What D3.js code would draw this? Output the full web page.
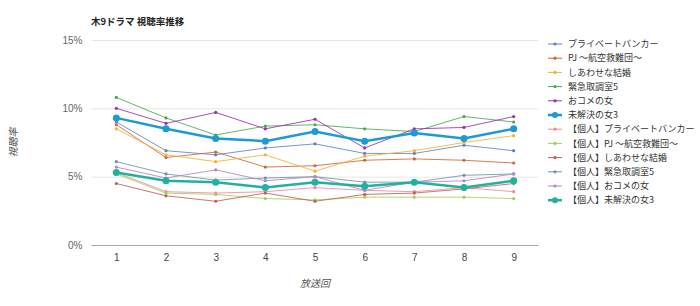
<!DOCTYPE html>
<html>
<head>
<meta charset="utf-8">
<script src="https://cdn.jsdelivr.net/npm/d3@7"></script>
<style>
  body { margin: 0; background: #fff; }
  svg { font-family: "Noto Sans CJK JP", "Noto Sans", sans-serif; }
</style>
</head>
<body>
<script>
// episodes and tick labels
const episodes = [1, 2, 3, 4, 5, 6, 7, 8, 9];
const yTicks = [0, 5, 10, 15];

// series names
const seriesNames = [
  'プライベートバンカー', 'PJ 〜航空救難団〜', 'しあわせな結婚', '緊急取調室5', 'おコメの女', '未解決の女3',
  '【個人】プライベートバンカー', '【個人】PJ 〜航空救難団〜', '【個人】しあわせな結婚', '【個人】緊急取調室5', '【個人】おコメの女', '【個人】未解決の女3'
];

// rating values (%) per episode
const privateBanker = [9.0, 6.9, 6.6, 7.1, 7.4, 6.7, 6.7, 7.3, 6.9];
const pj = [8.8, 6.4, 6.8, 5.7, 5.8, 6.2, 6.3, 6.2, 6.0];
const shiawase = [8.5, 6.6, 6.1, 6.6, 5.4, 6.5, 6.9, 7.5, 8.0];
const kinkyu = [10.8, 9.3, 8.05, 8.7, 8.8, 8.5, 8.3, 9.4, 9.0];
const okome = [10.0, 8.9, 9.7, 8.5, 9.2, 7.1, 8.5, 8.6, 9.4];
const mikaiketsu = [9.3, 8.5, 7.8, 7.6, 8.3, 7.6, 8.2, 7.8, 8.5];
const kojinPrivateBanker = [5.3, 3.9, 3.8, 3.9, 4.2, 4.0, 3.9, 4.2, 3.9];
const kojinPj = [5.2, 3.8, 3.7, 3.4, 3.3, 3.5, 3.5, 3.5, 3.4];
const kojinShiawase = [4.5, 3.6, 3.2, 3.8, 3.2, 3.7, 3.8, 4.1, 4.5];
const kojinKinkyu = [6.1, 5.2, 4.75, 4.9, 5.0, 4.6, 4.6, 5.1, 5.2];
const kojinOkome = [5.7, 4.9, 5.5, 4.7, 5.0, 4.0, 4.6, 4.7, 5.2];
const kojinMikaiketsu = [5.3, 4.7, 4.6, 4.2, 4.6, 4.3, 4.6, 4.2, 4.7];

const seriesValues = [privateBanker, pj, shiawase, kinkyu, okome, mikaiketsu,
  kojinPrivateBanker, kojinPj, kojinShiawase, kojinKinkyu, kojinOkome, kojinMikaiketsu];

const colors = ['#5f82c6', '#d2623c', '#f2b233', '#4aa94c', '#9a30a8', '#1d9ad4',
  '#f08a9a', '#a2cf5e', '#c25e58', '#6d95a8', '#b484c8', '#22b0a0'];
const thick = [false, false, false, false, false, true, false, false, false, false, false, true];

const series = seriesNames.map((name, i) => ({ name, values: seriesValues[i], color: colors[i], thick: thick[i] }));

const width = 700, height = 306;
const margin = { top: 40, right: 161.5, bottom: 61, left: 91.5 };

const svg = d3.select('body').append('svg')
  .attr('width', width)
  .attr('height', height);

const x = d3.scalePoint()
  .domain(episodes)
  .range([margin.left, width - margin.right])
  .padding(0.5);

const y = d3.scaleLinear()
  .domain([0, 15])
  .range([height - margin.bottom, margin.top]);

// title
svg.append('text')
  .attr('x', 91)
  .attr('y', 25)
  .attr('font-size', 9.5)
  .attr('font-weight', 'bold')
  .attr('fill', '#222')
  .text('木9ドラマ 視聴率推移');

// grid + y axis
const yAxis = svg.append('g')
  .attr('transform', `translate(${margin.left},0)`)
  .call(d3.axisLeft(y).tickValues(yTicks).tickFormat(d => d + '%')
    .tickSize(-(width - margin.left - margin.right)).tickPadding(9));
yAxis.select('.domain').remove();
yAxis.selectAll('.tick line').attr('stroke', d => d === 0 ? '#a8a8a8' : '#e6e6e6');
yAxis.selectAll('.tick text').attr('fill', '#666').attr('font-size', 10);

// x axis
const xAxis = svg.append('g')
  .attr('transform', `translate(0,${height - margin.bottom})`)
  .call(d3.axisBottom(x).tickSize(0).tickPadding(9));
xAxis.select('.domain').remove();
xAxis.selectAll('.tick text').attr('fill', '#444').attr('font-size', 10);

// axis titles
svg.append('text')
  .attr('x', (margin.left + width - margin.right) / 2)
  .attr('y', 287)
  .attr('text-anchor', 'middle')
  .attr('font-size', 10)
  .attr('font-style', 'italic')
  .attr('fill', '#555')
  .text('放送回');

svg.append('text')
  .attr('transform', `translate(17,${(margin.top + height - margin.bottom) / 2}) rotate(-90)`)
  .attr('text-anchor', 'middle')
  .attr('font-size', 10)
  .attr('font-style', 'italic')
  .attr('fill', '#555')
  .text('視聴率');

// lines
const line = d3.line()
  .x((d, i) => x(episodes[i]))
  .y(d => y(d));

const g = svg.append('g');
series.forEach(s => {
  g.append('path')
    .datum(s.values)
    .attr('fill', 'none')
    .attr('stroke', s.color)
    .attr('stroke-width', s.thick ? 2.5 : 1)
    .attr('opacity', s.thick ? 1 : 0.85)
    .attr('d', line);
  g.selectAll(null)
    .data(s.values)
    .enter().append('circle')
    .attr('cx', (d, i) => x(episodes[i]))
    .attr('cy', d => y(d))
    .attr('r', s.thick ? 3.5 : 1.6)
    .attr('fill', s.color);
});

// legend
const legend = svg.append('g');
series.forEach((s, i) => {
  const ly = 44 + i * 14.2;
  legend.append('line')
    .attr('x1', 548).attr('x2', 562)
    .attr('y1', ly).attr('y2', ly)
    .attr('stroke', s.color)
    .attr('stroke-width', s.thick ? 2.5 : 1);
  legend.append('circle')
    .attr('cx', 555).attr('cy', ly)
    .attr('r', s.thick ? 3 : 1.6)
    .attr('fill', s.color);
  legend.append('text')
    .attr('x', 568).attr('y', ly)
    .attr('dy', '0.35em')
    .attr('font-size', 9)
    .attr('fill', '#333')
    .text(s.name);
});
</script>
</body>
</html>
